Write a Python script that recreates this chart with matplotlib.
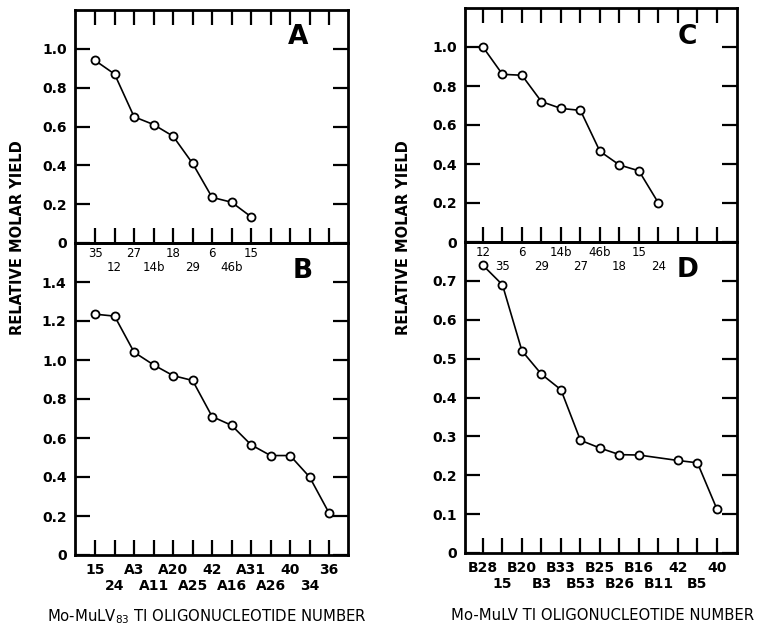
import matplotlib
matplotlib.use('Agg')
import matplotlib.pyplot as plt
import numpy as np

# panel A / B : Mo-MuLV83, panel C / D : Mo-MuLV
a_labels = ['35', '12', '27', '14b', '18', '29', '6', '46b', '15']
a_yield = [0.94, 0.87, 0.65, 0.61, 0.55, 0.41, 0.235, 0.21, 0.135]

b_labels = ['15', '24', 'A3', 'A11', 'A20', 'A25', '42', 'A16', 'A31', 'A26', '40', '34', '36']
b_yield = [1.235, 1.225, 1.04, 0.975, 0.92, 0.895, 0.71, 0.665, 0.565, 0.51, 0.51, 0.40, 0.215]

c_labels = ['12', '35', '6', '29', '14b', '27', '46b', '18', '15', '24']
c_yield = [1.0, 0.86, 0.855, 0.72, 0.685, 0.675, 0.465, 0.395, 0.365, 0.20]

d_labels = ['B28', '15', 'B20', 'B3', 'B33', 'B53', 'B25', 'B26', 'B16', 'B11', '42', 'B5', '40']
d_yield = [0.74, 0.69, 0.52, 0.46, 0.42, 0.29, 0.27, 0.253, 0.252, np.nan, 0.238, 0.232, 0.113]

NTICK = 13
W, H = 758, 627

plt.rcParams['font.family'] = ['DejaVu Sans']
plt.rcParams['mathtext.default'] = 'regular'

fig = plt.figure(figsize=(W / 100, H / 100), dpi=100)


def box(l, t, r, b):
    return [l / W, 1 - b / H, (r - l) / W, (b - t) / H]


def panel(pos, xlim, ylim, yticks, ylabels, top_ticks):
    ax = fig.add_axes(box(*pos))
    ax.patch.set_visible(False)
    ax.set_xlim(xlim)
    ax.set_ylim(ylim)
    for s in ax.spines.values():
        s.set_linewidth(2.0)
    ax.set_yticks(yticks)
    ax.set_yticklabels(ylabels, fontsize=10, fontweight='bold')
    ax.tick_params(axis='both', which='both', direction='in', length=11, width=1.6)
    ax.tick_params(axis='y', left=True, right=True, pad=6)
    ax.tick_params(axis='x', which='both', top=top_ticks, bottom=True)
    return ax


def xlabels(ax, labels, size, weight, pad, gap):
    # two staggered rows: even ticks on the first row, odd ticks on the second
    lab = list(labels) + [''] * (NTICK - len(labels))
    even = list(range(0, NTICK, 2))
    odd = list(range(1, NTICK, 2))
    ax.set_xticks(even)
    ax.set_xticklabels([lab[i] for i in even], fontsize=size, fontweight=weight)
    ax.set_xticks(odd, minor=True)
    ax.set_xticklabels([lab[i] for i in odd], minor=True, fontsize=size, fontweight=weight)
    ax.tick_params(axis='x', which='major', pad=pad)
    ax.tick_params(axis='x', which='minor', pad=pad + gap)


def draw(ax, values):
    v = np.array(values, dtype=float)
    x = np.arange(len(v))
    ok = ~np.isnan(v)
    ax.plot(x[ok], v[ok], color='black', lw=1.2, marker='o', ms=5.8,
            mfc='white', mec='black', mew=1.3, zorder=5)


# left column
axB = panel((75, 243, 348, 555), (-1.03, 12.97), (0, 1.6),
            [0, 0.2, 0.4, 0.6, 0.8, 1.0, 1.2, 1.4],
            ['0', '0.2', '0.4', '0.6', '0.8', '1.0', '1.2', '1.4'], False)
draw(axB, b_yield)
xlabels(axB, b_labels, 10, 'bold', 6, 11.5)

axA = panel((75, 10, 348, 243), (-1.03, 12.97), (0, 1.2),
            [0, 0.2, 0.4, 0.6, 0.8, 1.0],
            ['0', '0.2', '0.4', '0.6', '0.8', '1.0'], True)
draw(axA, a_yield)
xlabels(axA, a_labels, 8.5, 'normal', 3, 10)

# right column
axD = panel((465, 242, 737, 553), (-0.92, 13.03), (0, 0.8),
            [0, 0.1, 0.2, 0.3, 0.4, 0.5, 0.6, 0.7],
            ['0', '0.1', '0.2', '0.3', '0.4', '0.5', '0.6', '0.7'], False)
draw(axD, d_yield)
xlabels(axD, d_labels, 10, 'bold', 6, 11.5)

axC = panel((465, 8, 737, 242), (-0.92, 13.03), (0, 1.2),
            [0, 0.2, 0.4, 0.6, 0.8, 1.0],
            ['0', '0.2', '0.4', '0.6', '0.8', '1.0'], True)
draw(axC, c_yield)
xlabels(axC, c_labels, 8.5, 'normal', 3, 10)

# panel letters
for txt, px, py in [('A', 298, 37), ('B', 303, 271), ('C', 687, 37), ('D', 688, 270)]:
    fig.text(px / W, 1 - py / H, txt, fontsize=19, fontweight='bold', ha='center', va='center')

fig.text(18 / W, 1 - 238 / H, 'RELATIVE MOLAR YIELD', rotation=90, fontsize=10.5,
         fontweight='bold', ha='center', va='center')
fig.text(403 / W, 1 - 238 / H, 'RELATIVE MOLAR YIELD', rotation=90, fontsize=10.5,
         fontweight='bold', ha='center', va='center')

fig.text(207 / W, 1 - 617 / H, 'Mo-MuLV$_{83}$ TI OLIGONUCLEOTIDE NUMBER', fontsize=10.7,
         ha='center', va='center')
fig.text(603 / W, 1 - 615 / H, 'Mo-MuLV TI OLIGONUCLEOTIDE NUMBER', fontsize=10.7,
         ha='center', va='center')

fig.savefig('out.png', dpi=100)
